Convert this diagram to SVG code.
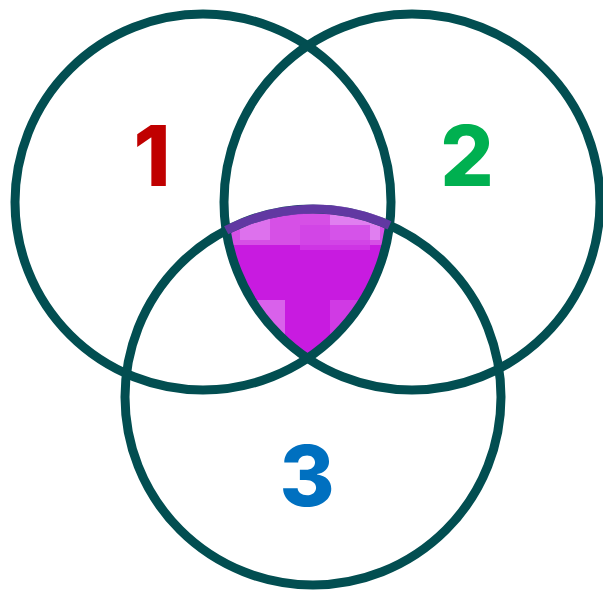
<svg xmlns="http://www.w3.org/2000/svg" width="603" height="594" viewBox="0 0 603 594">
<style>
.ring{fill:none;stroke:#024e51;stroke-width:9}
.lbl{font-family:Inter,"Liberation Sans",sans-serif;font-weight:800;font-size:84px;text-anchor:middle}
</style>
<defs>
<clipPath id="tri"><path d="M226.2,230.3 A188,188 0 0 1 389.5,225.3 A188,188 0 0 1 307.5,358.3 A188,188 0 0 1 226.2,230.3 Z"/></clipPath>
</defs>
<rect width="603" height="594" fill="#ffffff"/>
<g id="region">
<path d="M226.2,230.3 A188,188 0 0 1 389.5,225.3 A188,188 0 0 1 307.5,358.3 A188,188 0 0 1 226.2,230.3 Z" fill="#c81be0"/>
<g clip-path="url(#tri)">
<rect x="230" y="205" width="160" height="40" fill="#d650e6"/>
<rect x="330" y="215" width="50" height="25" fill="#e07ff0"/>
<rect x="240" y="210" width="30" height="30" fill="#e07ff0" opacity="0.7"/>
<rect x="300" y="225" width="70" height="25" fill="#d040e6" opacity="0.7"/>
<rect x="240" y="300" width="45" height="45" fill="#e07ff0" opacity="0.7"/>
<rect x="330" y="300" width="50" height="40" fill="#d650e6" opacity="0.6"/>
<rect x="255" y="250" width="40" height="40" fill="#c81be0"/>
</g>
</g>
<g id="circles">
<circle id="c1" class="ring" cx="203" cy="202" r="188"/>
<circle id="c2" class="ring" cx="412" cy="202" r="188"/>
<circle id="c3" class="ring" cx="313" cy="397" r="188"/>
</g>
<path d="M226.2,230.3 A188,188 0 0 1 389.5,225.3" fill="none" stroke="#8a2fc4" stroke-width="9" opacity="0.7"/>
<g id="labels">
<text class="lbl" x="152" y="186" fill="#c00000">1</text>
<text class="lbl" x="467" y="186" fill="#00b050">2</text>
<text class="lbl" x="307" y="506" fill="#0070c0">3</text>
</g>
</svg>
